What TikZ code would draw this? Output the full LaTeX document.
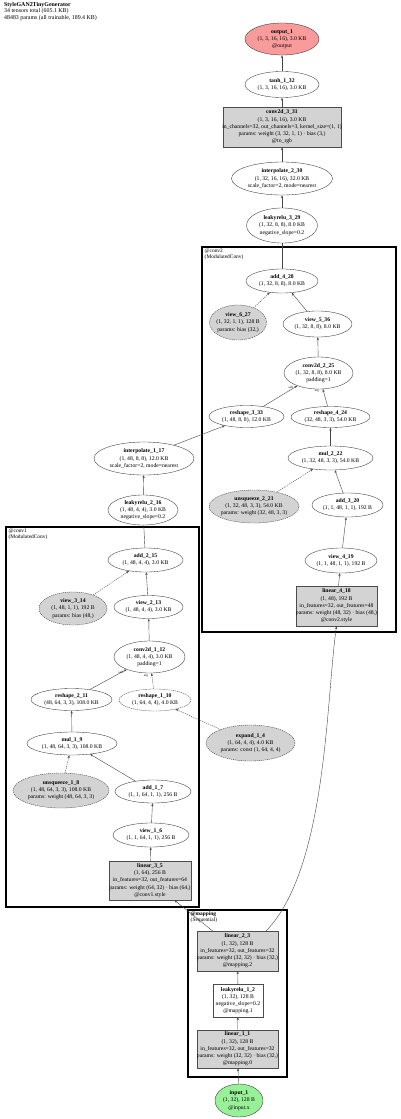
\documentclass[tikz,border=0pt]{standalone}
\usepackage{fontspec}
\setmainfont{Liberation Serif}
\usetikzlibrary{shapes.geometric,arrows.meta,calc}
\definecolor{outred}{RGB}{250,155,155}
\definecolor{ingreen}{RGB}{152,240,152}
\definecolor{boxgray}{RGB}{211,211,211}
\definecolor{edgecol}{RGB}{70,70,70}
\newcommand{\gn}[7]{%
  \node[#1, minimum width=#5pt, minimum height=#6pt] (#2) at (#3,#4) {};
  \node[txt] (#2-t) at (#2.center) {#7};}
\tikzset{
  txt/.style={inner sep=0pt, align=center, font=\fontsize{5.7}{7.2}\selectfont},
  ell/.style={ellipse, draw=black!80, line width=0.35pt, inner sep=0pt},
  ellgray/.style={ell, fill=boxgray, dashed, dash pattern=on 1.2pt off 0.8pt},
  elldash/.style={ell, dashed, dash pattern=on 1.2pt off 0.8pt},
  rectbox/.style={rectangle, draw=black!70, line width=0.35pt, inner sep=0pt},
  rectgray/.style={rectbox, fill=boxgray},
  edge/.style={draw=edgecol, line width=0.4pt, -{Stealth[length=3pt,width=2.2pt]}},
  edgedash/.style={edge, dashed, dash pattern=on 1.2pt off 0.9pt},
  plainedge/.style={draw=edgecol, line width=0.4pt},
  cluster/.style={draw=black, line width=1.6pt},
  clab/.style={inner sep=0pt, anchor=north west, align=left, font=\fontsize{5.4}{6.2}\selectfont},
  elab/.style={inner sep=0pt, font=\fontsize{3.2}{3.2}\selectfont},
}
\begin{document}
\begin{tikzpicture}[x=1pt,y=-1pt]
\useasboundingbox[fill=white] (0,0) rectangle (400,1119);

% title
\node[inner sep=0pt, anchor=north west, align=left, font=\fontsize{5.9}{5.3}\selectfont] (title) at (4,2)
 {\textbf{StyleGAN2TinyGenerator}\\34 tensors total (605.1 KB)\\48483 params (all trainable, 189.4 KB)};

% clusters
\draw[cluster] (202,247) rectangle (396,632);
\node[clab] (conv2lab) at (204.5,248.3) {@conv2\\(ModulatedConv)};
\draw[cluster] (6,527) rectangle (199,907);
\node[clab] (conv1lab) at (8.5,528.3) {@conv1\\(ModulatedConv)};
\draw[cluster] (188,910) rectangle (287,1077);
\node[clab] (maplab) at (190.5,911.3) {\textbf{@mapping}\\(Sequential)};

% top chain
\gn{ell, fill=outred}{out1}{282}{39}{74}{32}{\textbf{output\_1}\\(1, 3, 16, 16), 3.0 KB\\@output}
\gn{ell, fill=white}{tanh}{282}{84.5}{74}{26}{\textbf{tanh\_1\_32}\\(1, 3, 16, 16), 3.0 KB}
\gn{rectgray}{conv3}{282}{127}{118}{40}{\textbf{conv2d\_3\_31}\\(1, 3, 16, 16), 3.0 KB\\in\_channels=32, out\_channels=3, kernel\_size=(1, 1)\\params: weight (3, 32, 1, 1) · bias (3,)\\@to\_rgb}
\gn{ell, fill=white}{interp2}{282}{178.5}{101}{33}{\textbf{interpolate\_2\_30}\\(1, 32, 16, 16), 32.0 KB\\scale\_factor=2, mode=nearest}
\gn{ell, fill=white}{lrelu3}{282}{225.5}{71}{35}{\textbf{leakyrelu\_3\_29}\\(1, 32, 8, 8), 8.0 KB\\negative\_slope=0.2}

% conv2 cluster
\gn{ell, fill=white}{add4}{282}{281}{72}{24}{\textbf{add\_4\_28}\\(1, 32, 8, 8), 8.0 KB}
\gn{ellgray}{view6}{238}{322.5}{57}{35}{\textbf{view\_6\_27}\\(1, 32, 1, 1), 128 B\\params: bias (32,)}
\gn{ell, fill=white}{view5}{317.5}{324}{69}{26}{\textbf{view\_5\_36}\\(1, 32, 8, 8), 8.0 KB}
\gn{ell, fill=white}{conv22}{318.5}{373}{69}{32}{\textbf{conv2d\_2\_25}\\(1, 32, 8, 8), 8.0 KB\\padding=1}
\gn{ell, fill=white}{resh3}{246.5}{416.5}{75}{22}{\textbf{reshape\_3\_33}\\(1, 48, 8, 8), 12.0 KB}
\gn{ell, fill=white}{resh4}{330.5}{417}{79}{21}{\textbf{reshape\_4\_24}\\(32, 48, 3, 3), 54.0 KB}
\gn{ell, fill=white}{mul2}{330.5}{458}{85}{24}{\textbf{mul\_2\_22}\\(1, 32, 48, 3, 3), 54.0 KB}
\gn{ellgray}{unsq2}{254}{506.5}{90}{33}{\textbf{unsqueeze\_2\_21}\\(1, 32, 48, 3, 3), 54.0 KB\\params: weight (32, 48, 3, 3)}
\gn{ell, fill=white}{add3}{347.5}{505}{71}{24}{\textbf{add\_3\_20}\\(1, 1, 48, 1, 1), 192 B}
\gn{ell, fill=white}{view4}{341}{560.5}{72}{25}{\textbf{view\_4\_19}\\(1, 1, 48, 1, 1), 192 B}
\gn{rectgray}{lin4}{336.5}{606}{81}{40}{\textbf{linear\_4\_18}\\(1, 48), 192 B\\in\_features=32, out\_features=48\\params: weight (48, 32) · bias (48,)\\@conv2.style}

% between
\gn{ell, fill=white}{interp1}{144}{458.5}{100}{33}{\textbf{interpolate\_1\_17}\\(1, 48, 8, 8), 12.0 KB\\scale\_factor=2, mode=nearest}
\gn{ell, fill=white}{lrelu2}{143}{510}{70}{30}{\textbf{leakyrelu\_2\_16}\\(1, 48, 4, 4), 3.0 KB\\negative\_slope=0.2}

% conv1 cluster
\gn{ell, fill=white}{add2}{145.5}{560}{75}{24}{\textbf{add\_2\_15}\\(1, 48, 4, 4), 3.0 KB}
\gn{ellgray}{view3}{73}{608.5}{68}{33}{\textbf{view\_3\_14}\\(1, 48, 1, 1), 192 B\\params: bias (48,)}
\gn{ell, fill=white}{view2}{148.5}{607}{69}{23}{\textbf{view\_2\_13}\\(1, 48, 4, 4), 3.0 KB}
\gn{ell, fill=white}{conv21}{149.5}{657}{71}{32}{\textbf{conv2d\_1\_12}\\(1, 48, 4, 4), 3.0 KB\\padding=1}
\gn{ell, fill=white}{resh2}{71.5}{699.5}{81}{22}{\textbf{reshape\_2\_11}\\(48, 64, 3, 3), 108.0 KB}
\gn{elldash, fill=white}{resh1}{155}{700}{72}{22}{\textbf{reshape\_1\_10}\\(1, 64, 4, 4), 4.0 KB}
\gn{ell, fill=white}{mul1}{72}{743.5}{90}{23}{\textbf{mul\_1\_9}\\(1, 48, 64, 3, 3), 108.0 KB}
\gn{ellgray}{unsq1}{61}{790.5}{96}{35}{\textbf{unsqueeze\_1\_8}\\(1, 48, 64, 3, 3), 108.0 KB\\params: weight (48, 64, 3, 3)}
\gn{ell, fill=white}{add1}{153}{791.5}{76}{23}{\textbf{add\_1\_7}\\(1, 1, 64, 1, 1), 256 B}
\gn{ell, fill=white}{view1}{151}{835}{76}{24}{\textbf{view\_1\_6}\\(1, 1, 64, 1, 1), 256 B}
\gn{rectgray}{lin3}{150}{880.5}{82}{39}{\textbf{linear\_3\_5}\\(1, 64), 256 B\\in\_features=32, out\_features=64\\params: weight (64, 32) · bias (64,)\\@conv1.style}

\gn{ellgray}{expand}{250.5}{743}{89}{36}{\textbf{expand\_1\_4}\\(1, 64, 4, 4), 4.0 KB\\params: const (1, 64, 4, 4)}

% mapping
\gn{rectgray}{lin2}{237.5}{951}{81}{40}{\textbf{linear\_2\_3}\\(1, 32), 128 B\\in\_features=32, out\_features=32\\params: weight (32, 32) · bias (32,)\\@mapping.2}
\gn{rectbox, fill=white}{lrelu1}{238}{1000.5}{50}{33}{\textbf{leakyrelu\_1\_2}\\(1, 32), 128 B\\negative\_slope=0.2\\@mapping.1}
\gn{rectgray}{lin1}{237.5}{1049}{81}{38}{\textbf{linear\_1\_1}\\(1, 32), 128 B\\in\_features=32, out\_features=32\\params: weight (32, 32) · bias (32,)\\@mapping.0}
\gn{ell, fill=ingreen}{in1}{239}{1100.5}{48}{33}{\textbf{input\_1}\\(1, 32), 128 B\\@input.x}

% edges
\draw[edge] (in1) -- (lin1);
\draw[edge] (lin1) -- (lrelu1);
\draw[edge] (lrelu1) -- (lin2);
\draw[edge] (lin2) -- (lin3);
\draw[edge] (lin2.north east) ++(-12,0) .. controls (327,868) and (326,700) .. (lin4.south);
\draw[edge] (lin3) -- (view1);
\draw[edge] (view1) -- (add1);
\draw[edge] (add1) -- (mul1);
\draw[edgedash] (unsq1) -- (mul1);
\draw[edge] (mul1) -- (resh2);
\draw[edge] (resh2) -- (conv21);
\draw[edgedash] (resh1) -- (conv21);
\draw[edgedash] (expand) -- (resh1);
\draw[edge] (conv21) -- (view2);
\draw[edge] (view2) -- (add2);
\draw[edgedash] (view3) -- (add2);
\draw[plainedge] (add2) -- (lrelu2);
\draw[edge] (lrelu2) -- (interp1);
\draw[edge] (interp1.24) -- (resh3.203);
\draw[edge] (resh3) -- (conv22);
\draw[edge] (resh4) -- (conv22);
\draw[edge] (mul2) -- (resh4);
\draw[edgedash] (unsq2) -- (mul2);
\draw[edge] (add3) -- (mul2);
\draw[edge] (view4) -- (add3);
\draw[edge] (lin4) -- (view4);
\draw[edge] (conv22) -- (view5);
\draw[edge] (view5) -- (add4);
\draw[edgedash] (view6) -- (add4);
\draw[plainedge] (add4) -- (lrelu3);
\draw[edge] (lrelu3) -- (interp2);
\draw[edge] (interp2) -- (conv3);
\draw[edge] (conv3) -- (tanh);
\draw[edge] (tanh) -- (out1);

% edge labels
\node[elab] (l-self1) at (121,672.5) {self};
\node[elab] (l-arg1) at (146,676) {arg};
\node[elab] (l-self2) at (291,387.5) {self};
\node[elab] (l-arg2) at (317,391.5) {arg};
\end{tikzpicture}
\end{document}
